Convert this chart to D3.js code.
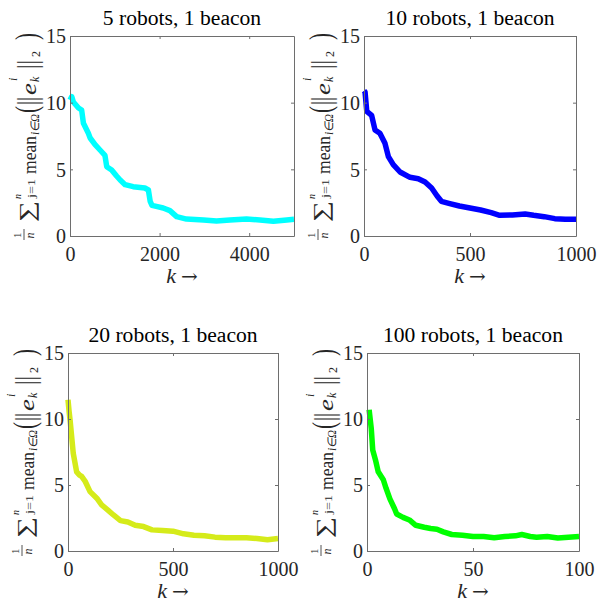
<!DOCTYPE html>
<html><head><meta charset="utf-8">
<script src="https://cdn.jsdelivr.net/npm/d3@7"></script>
<style>html,body{margin:0;padding:0;background:#fff;}</style>
</head><body>
<svg id="chart" width="603" height="602"></svg>
<script>
// ---- data ----
const titles = ["5 robots, 1 beacon", "10 robots, 1 beacon", "20 robots, 1 beacon", "100 robots, 1 beacon"];
const colors = ["#00ffff", "#0000ff", "#d5eb1a", "#00ff00"];
const xMax = [5000, 1000, 1000, 100];
const xTicks1 = [0, 2000, 4000];
const xTicks2 = [0, 500, 1000];
const xTicks3 = [0, 500, 1000];
const xTicks4 = [0, 50, 100];
const yTicks = [0, 5, 10, 15];

const k5 = [0, 40, 75, 190, 260, 300, 410, 450, 560, 670, 780, 820, 930, 1040, 1120, 1230, 1410, 1670, 1750, 1790, 1830, 1950, 2080, 2230, 2380, 2600, 2980, 3270, 3570, 3940, 4240, 4540, 4840, 5000];
const e5 = [10.2, 10.45, 10.05, 9.6, 9.45, 8.45, 7.7, 7.35, 6.85, 6.45, 6.05, 5.2, 4.95, 4.5, 4.2, 3.85, 3.7, 3.6, 3.45, 2.6, 2.3, 2.2, 2.1, 1.9, 1.45, 1.27, 1.2, 1.12, 1.2, 1.27, 1.2, 1.1, 1.2, 1.25];

const k10 = [0, 5, 13, 36, 52, 75, 99, 115, 138, 170, 217, 256, 288, 319, 345, 365, 400, 450, 500, 550, 600, 640, 700, 760, 800, 850, 900, 950, 1000];
const e10 = [10.9, 10.8, 9.35, 9.05, 7.95, 7.7, 6.95, 5.95, 5.35, 4.8, 4.4, 4.3, 4.05, 3.6, 3.0, 2.6, 2.45, 2.25, 2.1, 1.95, 1.75, 1.55, 1.58, 1.65, 1.55, 1.45, 1.3, 1.25, 1.25];

const k20 = [0, 5, 10, 25, 41, 55, 65, 81, 105, 137, 160, 190, 215, 250, 285, 320, 360, 400, 450, 500, 550, 600, 650, 700, 750, 800, 850, 900, 950, 1000];
const e20 = [11.45, 10.6, 9.9, 7.4, 6.0, 5.75, 5.65, 5.3, 4.5, 4.0, 3.5, 3.1, 2.75, 2.3, 2.2, 1.95, 1.85, 1.6, 1.55, 1.5, 1.3, 1.2, 1.15, 1.05, 1.0, 1.0, 1.0, 0.95, 0.85, 0.95];

const k100 = [1, 2, 2.7, 4, 5.3, 7.7, 9, 10.8, 13, 14, 17, 20, 23, 27, 30, 33, 36, 40, 45, 50, 55, 60, 65, 70, 73, 77, 80, 85, 90, 95, 100];
const e100 = [10.7, 9.3, 7.65, 6.9, 6.0, 5.4, 4.75, 3.95, 3.2, 2.8, 2.55, 2.35, 1.95, 1.8, 1.7, 1.65, 1.45, 1.25, 1.2, 1.1, 1.1, 1.0, 1.1, 1.15, 1.25, 1.1, 1.05, 1.1, 0.98, 1.05, 1.1];

const seriesK = [k5, k10, k20, k100];
const seriesE = [e5, e10, e20, e100];
const xTickSets = [xTicks1, xTicks2, xTicks3, xTicks4];

// ---- layout ----
const panels = [
  {left: 70, right: 294, top: 36, bottom: 236},
  {left: 364, right: 576, top: 36, bottom: 236},
  {left: 68, right: 278, top: 353, bottom: 551},
  {left: 367, right: 579, top: 353, bottom: 551}
];
const serif = "'Liberation Serif', 'Times New Roman', serif";
const ink = "#262626";
const axisColor = "#6e6e6e";
const svg = d3.select("#chart");

// pieces of the y label: [text, localX, baselineY, fontSize, italic, lengthAlongText]
const yLabelPieces = [
  ["1", 4, -15, 11, false, 0],
  ["n", 3.5, -2, 12, true, 0],
  ["\u2211", 20, -2, 21, false, 21],
  ["n", 43, -15, 10, true, 0],
  ["j=1", 44, -1, 11, false, 19],
  ["mean", 68, 0, 19, false, 38],
  ["i\u2208\u03A9", 107, 3, 12, true, 21],
  ["(", 129, 1, 32, false, 7],
  ["||", 137, 1, 30, false, 8],
  ["e", 147, 0, 20, true, 12],
  ["i", 161, -19, 12, true, 0],
  ["k", 160, 3, 12, true, 0],
  ["||", 173, 1, 30, false, 9],
  ["2", 185, 4, 12, false, 0],
  [")", 202, 1, 32, false, 7]
];

function yLabel(g, ox, oy) {
  const grp = g.append("g").attr("transform", `translate(${ox},${oy}) rotate(-90)`);
  yLabelPieces.forEach(([s, lx, ly, fs, it, len]) => {
    const t = grp.append("text").attr("x", lx).attr("y", ly)
      .attr("font-family", serif).attr("font-size", fs).attr("fill", ink)
      .attr("font-style", it ? "italic" : "normal").text(s);
    if (len) t.attr("textLength", len).attr("lengthAdjust", "spacingAndGlyphs");
  });
  grp.append("line").attr("x1", 2).attr("x2", 13).attr("y1", -12).attr("y2", -12)
    .attr("stroke", ink).attr("stroke-width", 0.8);
}

panels.forEach((p, i) => {
  const g = svg.append("g");
  const x = d3.scaleLinear().domain([0, xMax[i]]).range([p.left, p.right]);
  const y = d3.scaleLinear().domain([0, 15]).range([p.bottom, p.top]);

  // data line
  const data = seriesK[i].map((k, j) => [k, seriesE[i][j]]);
  g.append("path").datum(data)
    .attr("fill", "none").attr("stroke", colors[i]).attr("stroke-width", 5.5)
    .attr("stroke-linejoin", "round").attr("stroke-linecap", "butt")
    .attr("d", d3.line().x(d => x(d[0])).y(d => y(d[1])));

  // axes
  const ax = g.append("g").attr("transform", `translate(0,${p.bottom})`)
    .call(d3.axisBottom(x).tickValues(xTickSets[i]).tickSize(-3).tickSizeOuter(0).tickPadding(11).tickFormat(d3.format("d")));
  const axT = g.append("g").attr("transform", `translate(0,${p.top})`)
    .call(d3.axisTop(x).tickValues(xTickSets[i]).tickSize(-3).tickSizeOuter(0).tickFormat(""));
  const ay = g.append("g").attr("transform", `translate(${p.left},0)`)
    .call(d3.axisLeft(y).tickValues(yTicks).tickSize(-3).tickSizeOuter(0).tickPadding(4));
  const ayR = g.append("g").attr("transform", `translate(${p.right},0)`)
    .call(d3.axisRight(y).tickValues(yTicks).tickSize(-3).tickSizeOuter(0).tickFormat(""));
  [ax, axT, ay, ayR].forEach(a => {
    a.selectAll("path").attr("stroke", axisColor).attr("stroke-width", 1);
    a.selectAll("line").attr("stroke", axisColor).attr("stroke-width", 1);
    a.selectAll("text").attr("font-family", serif).attr("font-size", 20).attr("fill", ink);
  });
  ay.selectAll("text").attr("dy", "0.34em");

  // title (stretched slightly to match the wider original face)
  const tt = g.append("text").attr("x", (p.left + p.right) / 2).attr("y", p.top - 11)
    .attr("text-anchor", "middle").attr("font-family", serif).attr("font-size", 20)
    .attr("fill", "#000").text(titles[i]);
  const nat = tt.node().getComputedTextLength();
  tt.attr("textLength", nat * 1.08).attr("lengthAdjust", "spacingAndGlyphs");

  // x label
  const xl = g.append("text").attr("x", (p.left + p.right) / 2).attr("y", p.bottom + 47)
    .attr("text-anchor", "middle").attr("font-family", serif).attr("font-size", 22).attr("fill", ink);
  xl.append("tspan").attr("font-style", "italic").text("k");
  xl.append("tspan").attr("dx", 5).attr("font-family", "'DejaVu Serif', serif").attr("font-size", 20).text("\u2192");

  yLabel(g, p.left - 34, (p.top + p.bottom) / 2 + 106);
});
</script>
</body></html>
